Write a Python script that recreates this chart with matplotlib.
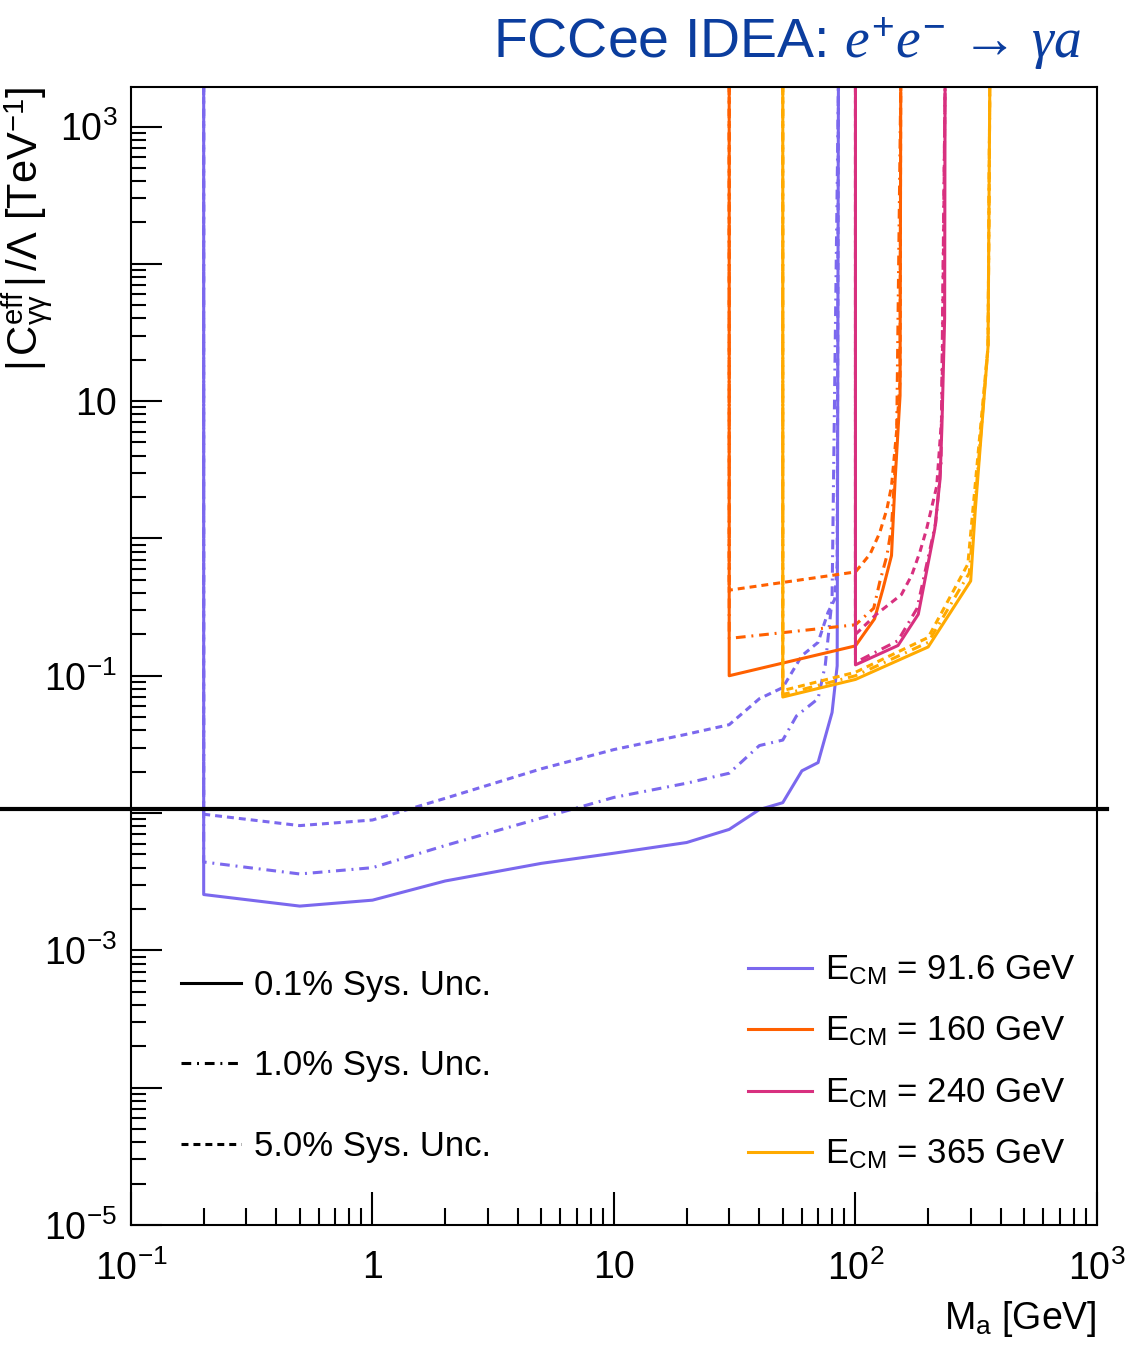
import numpy as np
import matplotlib
matplotlib.use('Agg')
import matplotlib.pyplot as plt
import matplotlib.transforms as mtransforms
from matplotlib.lines import Line2D
from matplotlib.ticker import LogLocator, FuncFormatter, NullFormatter

plt.rcParams['font.family'] = ['Liberation Sans', 'DejaVu Sans']
plt.rcParams['mathtext.fontset'] = 'custom'
plt.rcParams['mathtext.rm'] = 'Liberation Sans'
plt.rcParams['mathtext.it'] = 'Liberation Serif:italic'
plt.rcParams['mathtext.bf'] = 'Liberation Sans:bold'
plt.rcParams['lines.scale_dashes'] = False

# --- data (M_a in GeV, |C|/Lambda in TeV^-1) ---
# E_CM = 91.6 GeV
m916_s01 = [0.2, 0.2, 0.5, 1, 2, 5, 10, 20, 30, 40, 50, 60, 70, 80, 84, 85]
c916_s01 = [2000, 0.00255, 0.0021, 0.00232, 0.0032, 0.0043, 0.0051, 0.0061, 0.0076, 0.0106, 0.0119, 0.0203, 0.0233, 0.054, 0.118, 2000]
m916_s10 = [0.2, 0.2, 0.5, 1, 2, 5, 10, 20, 30, 40, 50, 57, 70, 75, 80, 85]
c916_s10 = [2000, 0.0044, 0.0036, 0.0040, 0.0058, 0.0092, 0.013, 0.0165, 0.0195, 0.031, 0.034, 0.051, 0.068, 0.12, 0.36, 2000]
m916_s50 = [0.2, 0.2, 0.5, 1, 2, 5, 10, 20, 30, 40, 50, 60, 70, 77, 82, 84, 85]
c916_s50 = [2000, 0.0098, 0.0081, 0.0089, 0.0128, 0.021, 0.029, 0.0375, 0.044, 0.068, 0.082, 0.14, 0.175, 0.29, 0.36, 0.64, 2000]

# E_CM = 160 GeV
m160_s01 = [30, 30, 100, 120, 130, 141, 146, 153, 154]
c160_s01 = [2000, 0.1, 0.165, 0.26, 0.43, 0.75, 2.7, 11, 2000]
m160_s10 = [30, 30, 100, 119, 126, 135, 141, 148, 154]
c160_s10 = [2000, 0.187, 0.235, 0.31, 0.48, 0.75, 1.2, 5, 2000]
m160_s50 = [30, 30, 100, 115, 126, 135, 141, 148, 153, 154]
c160_s50 = [2000, 0.42, 0.57, 0.77, 1.1, 1.64, 2.4, 6, 14, 2000]

# E_CM = 240 GeV
m240_s01 = [100, 100, 150, 182, 213, 224, 228, 234, 235]
c240_s01 = [2000, 0.12, 0.166, 0.28, 1.17, 2.7, 6.5, 40, 2000]
m240_s10 = [100, 100, 150, 180, 215, 226, 235]
c240_s10 = [2000, 0.125, 0.18, 0.31, 1.3, 3.5, 2000]
m240_s50 = [100, 100, 122, 155, 171, 185, 197, 217, 228, 235]
c240_s50 = [2000, 0.2, 0.28, 0.39, 0.54, 0.8, 1.17, 2.4, 8, 2000]

# E_CM = 365 GeV
m365_s01 = [50, 50, 100, 200, 300, 313, 354, 360]
c365_s01 = [2000, 0.07, 0.094, 0.162, 0.49, 1.56, 25, 2000]
m365_s10 = [50, 50, 100, 200, 296, 354, 360]
c365_s10 = [2000, 0.073, 0.1, 0.175, 0.56, 25, 2000]
m365_s50 = [50, 50, 100, 200, 292, 354, 360]
c365_s50 = [2000, 0.078, 0.106, 0.19, 0.65, 25, 2000]

energy_labels = ['91.6', '160', '240', '365']
colors = ['#7b68ee', '#ff6000', '#d8307f', '#ffaa00']
sys_labels = ['0.1% Sys. Unc.', '1.0% Sys. Unc.', '5.0% Sys. Unc.']
ref_level = 0.0107

curves = [
    [(m916_s01, c916_s01), (m916_s10, c916_s10), (m916_s50, c916_s50)],
    [(m160_s01, c160_s01), (m160_s10, c160_s10), (m160_s50, c160_s50)],
    [(m240_s01, c240_s01), (m240_s10, c240_s10), (m240_s50, c240_s50)],
    [(m365_s01, c365_s01), (m365_s10, c365_s10), (m365_s50, c365_s50)],
]

dash_dot = (0, (7.0, 4.2, 1.4, 4.2))
dashed = (0, (5.0, 3.6))
styles = ['-', dash_dot, dashed]
lw = 2.2

fig = plt.figure(figsize=(11.41, 13.51), dpi=100)
ax = fig.add_axes([0.1148, 0.0933, 0.8466, 0.8423])

for col, group in zip(colors, curves):
    for ls, (m, c) in zip(styles, group):
        ax.plot(m, c, color=col, lw=lw, linestyle=ls)

ax.set_xscale('log')
ax.set_yscale('log')
ax.set_xlim(0.1, 1000)
ax.set_ylim(1e-5, 1.94e3)

# horizontal reference line, running past the frame as in the original
trans = mtransforms.blended_transform_factory(fig.transFigure, ax.transData)
ax.plot([0.0, 0.970], [ref_level, ref_level], color='black', lw=3.0,
        transform=trans, clip_on=False, zorder=5)

def xfmt(v, pos):
    e = int(round(np.log10(v)))
    if e == 0:
        return '1'
    if e == 1:
        return '10'
    return r'$\mathdefault{10^{%d}}$' % e

def yfmt(v, pos):
    e = int(round(np.log10(v)))
    if e % 2 == 0:
        return ''
    if e == 1:
        return '10'
    return r'$\mathdefault{10^{%d}}$' % e

ax.xaxis.set_major_locator(LogLocator(base=10, numticks=20))
ax.xaxis.set_minor_locator(LogLocator(base=10, subs=np.arange(2, 10), numticks=20))
ax.yaxis.set_major_locator(LogLocator(base=10, numticks=20))
ax.yaxis.set_minor_locator(LogLocator(base=10, subs=np.arange(2, 10), numticks=20))
ax.xaxis.set_major_formatter(FuncFormatter(xfmt))
ax.yaxis.set_major_formatter(FuncFormatter(yfmt))
ax.xaxis.set_minor_formatter(NullFormatter())
ax.yaxis.set_minor_formatter(NullFormatter())

ax.tick_params(axis='both', which='both', direction='in', top=False, right=False,
               labelsize=27, width=1.5, colors='black')
ax.tick_params(axis='x', which='major', length=24, pad=18)
ax.tick_params(axis='x', which='minor', length=12)
ax.tick_params(axis='y', which='major', length=22, pad=10)
ax.tick_params(axis='y', which='minor', length=11)
for sp in ax.spines.values():
    sp.set_linewidth(1.5)

ax.set_xlabel(r'M$_{\mathrm{a}}$ [GeV]', fontsize=27, loc='right', labelpad=8)
ax.set_ylabel(r'$|\,\mathrm{C}^{\mathrm{eff}}_{\mathrm{\gamma\gamma}}\,|\,/\mathrm{\Lambda}$ [TeV$^{\mathrm{-1}}$]',
              fontsize=30, loc='top')
ax.yaxis.set_label_coords(-0.079, 1.0)

fig.text(0.947, 0.968, r'FCCee IDEA: $e^{+}e^{-}\,\rightarrow\,\gamma a$', color='#0b3d9e',
         fontsize=40, ha='right', va='center')

# legends
sys_handles = [Line2D([], [], color='black', lw=lw, linestyle=s) for s in styles]
leg1 = ax.legend(sys_handles, sys_labels, loc='upper left', bbox_to_anchor=(0.052, 0.225),
                 frameon=False, fontsize=25, handlelength=1.73, handletextpad=0.37,
                 labelspacing=1.37, borderpad=0, borderaxespad=0)
ax.add_artist(leg1)

e_handles = [Line2D([], [], color=c, lw=lw) for c in colors]
e_labels = [r'E$_{\mathrm{CM}}$ = %s GeV' % e for e in energy_labels]
ax.legend(e_handles, e_labels, loc='upper left', bbox_to_anchor=(0.639, 0.2384),
          frameon=False, fontsize=25, handlelength=1.84, handletextpad=0.37,
          labelspacing=0.82, borderpad=0, borderaxespad=0)

fig.savefig('out.png', dpi=100)
